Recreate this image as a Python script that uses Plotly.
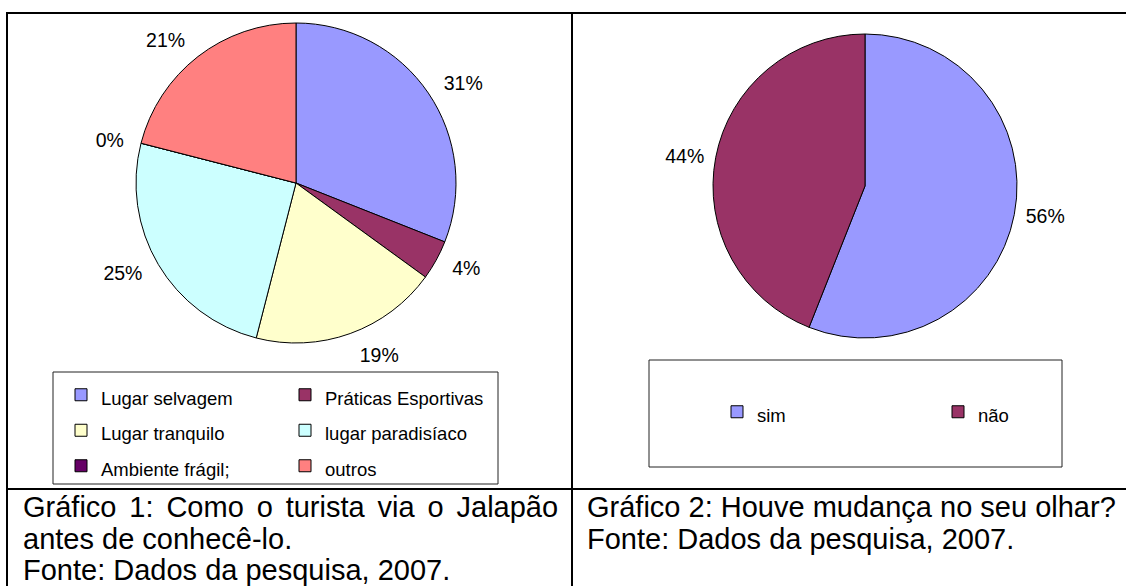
import plotly.graph_objects as go

# ---------------- data ----------------
cat1 = ["Lugar selvagem", "Práticas Esportivas", "Lugar tranquilo",
        "lugar paradisíaco", "Ambiente frágil;", "outros"]
val1 = [31, 4, 19, 25, 0, 21]
col1 = ["#9999FF", "#993366", "#FFFFCC", "#CCFFFF", "#660066", "#FF8080"]

cat2 = ["sim", "não"]
val2 = [56, 44]
col2 = ["#9999FF", "#993366"]

caption1 = ["Gráfico 1: Como o turista via o Jalapão",
            "antes de conhecê-lo.",
            "Fonte: Dados da pesquisa, 2007."]
caption2 = ["Gráfico 2: Houve mudança no seu olhar?",
            "Fonte: Dados da pesquisa, 2007."]

# ---------------- layout helpers ----------------
W, H = 1126, 586
ML, MR = 100, 0
PW = W - ML - MR
FONT = "Arial, 'Liberation Sans', sans-serif"


def fx(px):
    return (px - ML) / PW


def fy(py):
    return 1 - py / H


LEG_FS = 25
LBL_FS = 18.5
PCT_FS = 19.5


def leglabel(s):
    return f"<span style='font-size:{LBL_FS}px'>{s}</span>"


def dom(cx, cy, r):
    return dict(x=[fx(cx - r), fx(cx + r)], y=[fy(cy + r), fy(cy - r)])


fig = go.Figure()

c1x, c1y, r1 = 296, 183, 160
c2x, c2y, r2 = 865, 186, 152

# visible pies
fig.add_trace(go.Pie(
    labels=[leglabel(c) for c in cat1], values=val1,
    marker=dict(colors=col1, line=dict(color="black", width=1)),
    sort=False, direction="clockwise", rotation=0, textinfo="none",
    domain=dom(c1x, c1y, r1), legend="legend", hoverinfo="label+percent",
))
fig.add_trace(go.Pie(
    labels=[leglabel(c) for c in cat2], values=val2,
    marker=dict(colors=col2, line=dict(color="black", width=1)),
    sort=False, direction="clockwise", rotation=0, textinfo="none",
    domain=dom(c2x, c2y, r2), legend="legend2", hoverinfo="label+percent",
))

# percentage labels (transparent pies slightly larger, so labels sit a bit further out)
for cats, vals, cx, cy, r, lg in [(cat1, val1, c1x, c1y, r1 + 12, "legend"),
                                  (cat2, val2, c2x, c2y, r2 + 6, "legend2")]:
    fig.add_trace(go.Pie(
        labels=cats, values=vals,
        marker=dict(colors=["rgba(0,0,0,0)"] * len(vals), line=dict(width=0)),
        sort=False, direction="clockwise", rotation=0,
        textinfo="percent", textposition="outside",
        textfont=dict(size=PCT_FS, color="black", family=FONT),
        domain=dom(cx, cy, r), showlegend=False, legend=lg, hoverinfo="skip",
    ))

shapes = []


def line(x0, y0, x1, y1, w=2, color="black"):
    shapes.append(dict(type="line", xref="paper", yref="paper",
                       x0=fx(x0), y0=fy(y0), x1=fx(x1), y1=fy(y1),
                       line=dict(color=color, width=w)))


def rect(x0, y0, x1, y1):
    shapes.append(dict(type="rect", xref="paper", yref="paper",
                       x0=fx(x0), y0=fy(y0), x1=fx(x1), y1=fy(y1),
                       line=dict(color="#222222", width=1), fillcolor="rgba(0,0,0,0)"))


# frame
line(7, 13, 1130, 13)
line(7, 12, 7, 590)
line(572, 13, 572, 590)
line(7, 489, 1130, 489)
# legend boxes
rect(53, 372, 498, 484)
rect(649, 360, 1062, 467)

annotations = []


def text(s, x, y, size=29):
    annotations.append(dict(text=s, xref="paper", yref="paper", x=fx(x), y=fy(y),
                            xanchor="left", yanchor="middle", showarrow=False,
                            font=dict(size=size, color="black", family=FONT),
                            borderpad=0))


line1 = caption1[0].replace(" ", " \u2006")
cap_y = [507, 539, 570]
text(line1, 22, cap_y[0])
text(caption1[1], 22, cap_y[1])
text(caption1[2], 22, cap_y[2])
text(caption2[0], 586, cap_y[0])
text(caption2[1], 586, cap_y[1])

fig.update_layout(
    width=W, height=H,
    margin=dict(l=ML, r=MR, t=0, b=0, autoexpand=False),
    paper_bgcolor="white", plot_bgcolor="white",
    font=dict(family=FONT, color="black"),
    shapes=shapes, annotations=annotations,
    legend=dict(orientation="h", x=fx(61), xanchor="left", y=fy(372), yanchor="top",
                entrywidth=179, font=dict(size=LEG_FS, family=FONT, color="black"),
                bgcolor="rgba(0,0,0,0)", borderwidth=0, traceorder="normal"),
    legend2=dict(orientation="h", x=fx(717), xanchor="left", y=fy(412), yanchor="middle",
                 entrywidth=176, font=dict(size=LEG_FS, family=FONT, color="black"),
                 bgcolor="rgba(0,0,0,0)", borderwidth=0),
)

fig.write_html("out.html", config={"displayModeBar": False},
               post_script="document.body.style.margin='0';")
